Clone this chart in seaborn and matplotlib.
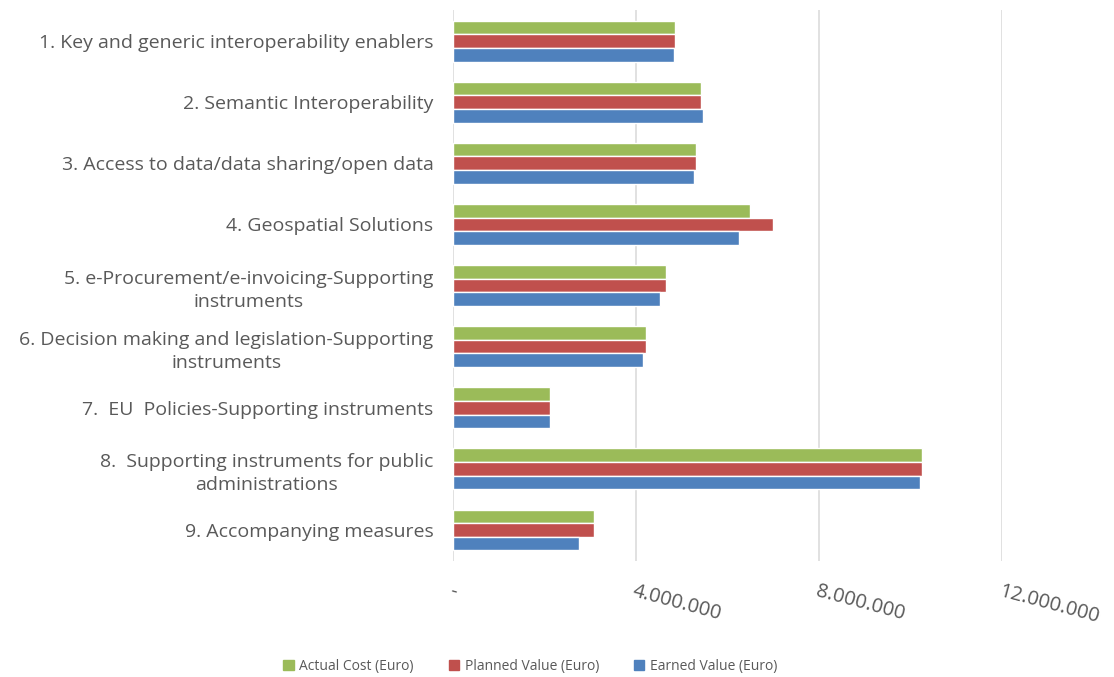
import matplotlib
matplotlib.use("Agg")
import matplotlib.pyplot as plt
import matplotlib.ticker as mticker
import seaborn as sns
import pandas as pd

categories = [
    "1. Key and generic interoperability enablers",
    "2. Semantic Interoperability",
    "3. Access to data/data sharing/open data",
    "4. Geospatial Solutions",
    "5. e-Procurement/e-invoicing-Supporting\ninstruments",
    "6. Decision making and legislation-Supporting\ninstruments",
    "7.  EU  Policies-Supporting instruments",
    "8.  Supporting instruments for public\nadministrations",
    "9. Accompanying measures",
]
series_names = ["Actual Cost (Euro)", "Planned Value (Euro)", "Earned Value (Euro)"]
actual_cost = [4860000, 5420000, 5320000, 6490000, 4660000, 4220000, 2130000, 10240000, 3090000]
planned_value = [4860000, 5420000, 5320000, 6990000, 4660000, 4220000, 2130000, 10240000, 3090000]
earned_value = [4820000, 5460000, 5260000, 6250000, 4520000, 4160000, 2130000, 10210000, 2750000]
x_ticks = [0, 4000000, 8000000, 12000000]
colors = ["#9BBB59", "#C0504D", "#4F81BD"]

rows = []
for name, vals in zip(series_names, [actual_cost, planned_value, earned_value]):
    for c, v in zip(categories, vals):
        rows.append({"Category": c, "Series": name, "Value": v})
df = pd.DataFrame(rows)

sns.set_theme(style="white")
plt.rcParams["font.family"] = ["Open Sans", "DejaVu Sans"]

fig = plt.figure(figsize=(11.14, 6.77), dpi=100)
ax = fig.add_axes([0.4066, 0.172, 0.4929, 0.8125])

sns.barplot(data=df, y="Category", x="Value", hue="Series", order=categories,
            hue_order=series_names, palette=colors, orient="h", width=0.67,
            saturation=1, ax=ax, legend=True)

ax.set_xlim(0, 12000000)
ax.set_xticks(x_ticks)

def fmt(v, pos):
    if v == 0:
        return "-"
    return f"{int(v):,}".replace(",", ".")

ax.xaxis.set_major_formatter(mticker.FuncFormatter(fmt))
ax.grid(axis="x", color="#D9D9D9", linewidth=1.1)
ax.grid(axis="y", visible=False)
ax.set_axisbelow(True)
for s in ax.spines.values():
    s.set_visible(False)
ax.set_xlabel("")
ax.set_ylabel("")
ax.tick_params(axis="both", length=0)
ax.tick_params(axis="y", pad=14)
for lab in ax.get_yticklabels():
    lab.set_fontsize(14)
    lab.set_color("#595959")
    lab.set_multialignment("center")
    lab.set_linespacing(1.4)
ax.tick_params(axis="x", pad=15)
for lab in ax.get_xticklabels():
    lab.set_fontsize(14.5)
    lab.set_color("#595959")
    lab.set_rotation(-15)
    lab.set_ha("left")
    lab.set_va("top")
    lab.set_rotation_mode("anchor")

ax.legend_.remove()
handles = [plt.Rectangle((0, 0), 1, 1, color=c) for c in colors]
leg = fig.legend(handles, series_names, loc="center", bbox_to_anchor=(0.476, 0.016),
                 ncol=3, frameon=False, fontsize=10, handlelength=0.75, handleheight=0.75,
                 handletextpad=0.4, columnspacing=2.5)
for t in leg.get_texts():
    t.set_color("#595959")

fig.savefig("out.png", dpi=100)
